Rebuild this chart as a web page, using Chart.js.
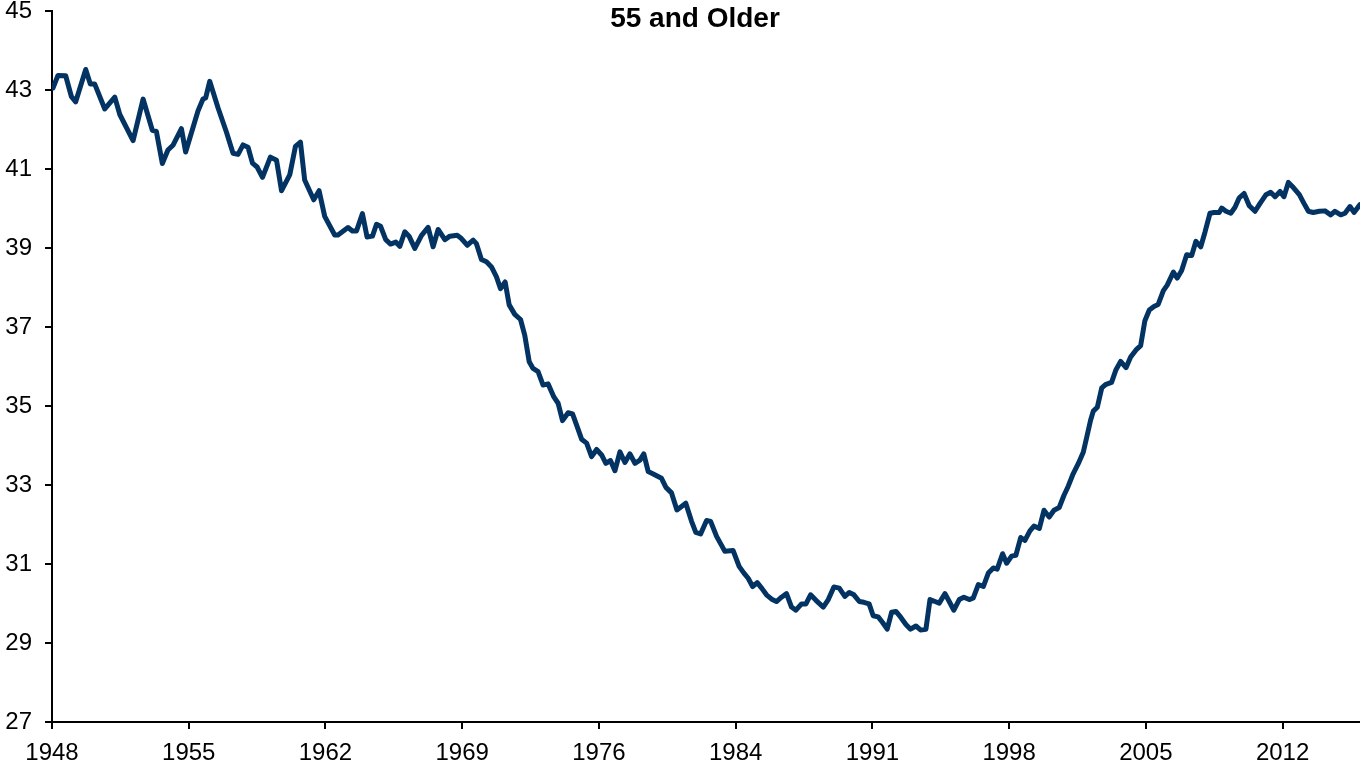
<!DOCTYPE html>
<html>
<head>
<meta charset="utf-8">
<title>55 and Older</title>
<script src="https://cdn.jsdelivr.net/npm/chart.js@4.4.1/dist/chart.umd.min.js"></script>
<style>
  html, body { margin: 0; padding: 0; background: #fff; }
  #wrap { width: 1360px; height: 764px; position: relative; }
</style>
</head>
<body>
<div id="wrap"><canvas id="myChart"></canvas></div>
<script>
// participation rate, 55 and older
var years = [
  1948.05, 1948.31, 1948.71, 1949.01, 1949.23, 1949.75, 1949.99, 1950.22, 1950.74, 1951.26,
  1951.52, 1952.21, 1952.73, 1953.21, 1953.42, 1953.73, 1954.02, 1954.28, 1954.72, 1954.94,
  1955.58, 1955.84, 1955.98, 1956.19, 1956.62, 1957.06, 1957.40, 1957.66, 1957.92, 1958.18,
  1958.41, 1958.65, 1958.93, 1959.34, 1959.66, 1959.92, 1960.35, 1960.64, 1960.90, 1961.12,
  1961.59, 1961.87, 1962.16, 1962.68, 1962.85, 1963.37, 1963.60, 1963.81, 1964.12, 1964.36,
  1964.64, 1964.85, 1965.06, 1965.33, 1965.58, 1965.85, 1966.06, 1966.32, 1966.54, 1966.84,
  1967.19, 1967.53, 1967.79, 1968.05, 1968.40, 1968.66, 1969.04, 1969.26, 1969.56, 1969.87,
  1970.04, 1970.30, 1970.56, 1970.82, 1971.08, 1971.29, 1971.53, 1971.74, 1972.03, 1972.33,
  1972.55, 1972.78, 1972.98, 1973.24, 1973.50, 1973.76, 1974.06, 1974.28, 1974.51, 1974.80,
  1975.03, 1975.27, 1975.50, 1975.76, 1976.02, 1976.28, 1976.54, 1976.76, 1977.00, 1977.23,
  1977.49, 1977.75, 1978.01, 1978.27, 1978.53, 1978.73, 1978.96, 1979.22, 1979.65, 1979.88,
  1980.17, 1980.45, 1980.91, 1981.21, 1981.43, 1981.68, 1981.99, 1982.20, 1982.51, 1982.94,
  1983.37, 1983.68, 1983.93, 1984.15, 1984.38, 1984.62, 1984.85, 1985.10, 1985.37, 1985.62,
  1985.88, 1986.14, 1986.40, 1986.63, 1986.92, 1987.15, 1987.39, 1987.67, 1988.05, 1988.31,
  1988.60, 1988.88, 1989.17, 1989.40, 1989.64, 1989.92, 1990.16, 1990.43, 1990.64, 1990.90,
  1991.13, 1991.37, 1991.60, 1991.82, 1992.06, 1992.34, 1992.58, 1992.86, 1993.10, 1993.38,
  1993.59, 1993.85, 1994.07, 1994.37, 1994.59, 1994.83, 1995.11, 1995.35, 1995.63, 1995.84,
  1996.10, 1996.36, 1996.62, 1996.88, 1997.08, 1997.36, 1997.57, 1997.83, 1998.05, 1998.30,
  1998.52, 1998.78, 1998.99, 1999.27, 1999.51, 1999.78, 2000.03, 2000.30, 2000.55, 2000.77,
  2001.03, 2001.29, 2001.55, 2001.73, 2001.93, 2002.07, 2002.28, 2002.51, 2002.73, 2003.02,
  2003.25, 2003.49, 2003.77, 2004.01, 2004.29, 2004.53, 2004.75, 2004.98, 2005.22, 2005.44,
  2005.71, 2005.91, 2006.23, 2006.43, 2006.66, 2006.92, 2007.18, 2007.40, 2007.65, 2007.87,
  2008.13, 2008.34, 2008.61, 2008.74, 2008.96, 2009.21, 2009.43, 2009.65, 2009.90, 2010.17,
  2010.47, 2010.73, 2011.04, 2011.28, 2011.51, 2011.77, 2011.97, 2012.20, 2012.46, 2012.77,
  2013.01, 2013.24, 2013.49, 2013.81, 2014.10, 2014.40, 2014.62, 2014.92, 2015.14, 2015.40,
  2015.61, 2015.92
];
var rates = [
  43.05, 43.37, 43.36, 42.83, 42.70, 43.52, 43.15, 43.15, 42.52, 42.82,
  42.38, 41.72, 42.77, 41.98, 41.95, 41.14, 41.48, 41.60, 42.02, 41.43,
  42.47, 42.77, 42.80, 43.22, 42.55, 41.93, 41.40, 41.37, 41.61, 41.55,
  41.15, 41.05, 40.79, 41.30, 41.22, 40.45, 40.86, 41.57, 41.68, 40.72,
  40.22, 40.45, 39.80, 39.33, 39.33, 39.52, 39.43, 39.43, 39.87, 39.28,
  39.30, 39.60, 39.55, 39.21, 39.10, 39.15, 39.04, 39.41, 39.30, 38.99,
  39.32, 39.52, 39.03, 39.47, 39.21, 39.30, 39.32, 39.24, 39.07, 39.20,
  39.11, 38.71, 38.65, 38.52, 38.27, 37.97, 38.14, 37.56, 37.32, 37.19,
  36.79, 36.12, 35.95, 35.87, 35.53, 35.56, 35.23, 35.07, 34.63, 34.83,
  34.80, 34.48, 34.16, 34.06, 33.72, 33.90, 33.76, 33.55, 33.62, 33.36,
  33.84, 33.57, 33.79, 33.55, 33.63, 33.79, 33.34, 33.28, 33.17, 32.94,
  32.80, 32.37, 32.54, 32.08, 31.80, 31.76, 32.10, 32.08, 31.70, 31.32,
  31.34, 30.94, 30.77, 30.64, 30.43, 30.53, 30.39, 30.22, 30.11, 30.05,
  30.16, 30.25, 29.91, 29.83, 29.99, 29.99, 30.22, 30.08, 29.91, 30.10,
  30.42, 30.39, 30.18, 30.28, 30.22, 30.05, 30.03, 29.99, 29.69, 29.66,
  29.52, 29.35, 29.78, 29.80, 29.66, 29.47, 29.35, 29.43, 29.33, 29.35,
  30.10, 30.05, 30.01, 30.25, 30.05, 29.83, 30.10, 30.16, 30.10, 30.14,
  30.48, 30.43, 30.77, 30.90, 30.87, 31.26, 31.02, 31.20, 31.22, 31.67,
  31.60, 31.84, 31.96, 31.90, 32.36, 32.19, 32.36, 32.43, 32.74, 32.97,
  33.29, 33.54, 33.83, 34.21, 34.64, 34.87, 34.97, 35.46, 35.55, 35.60,
  35.92, 36.13, 35.97, 36.24, 36.42, 36.53, 37.16, 37.43, 37.52, 37.57,
  37.92, 38.06, 38.39, 38.24, 38.43, 38.83, 38.81, 39.17, 39.03, 39.40,
  39.88, 39.90, 39.90, 40.01, 39.93, 39.88, 40.03, 40.27, 40.38, 40.07,
  39.93, 40.13, 40.35, 40.41, 40.30, 40.43, 40.30, 40.66, 40.53, 40.35,
  40.13, 39.93, 39.90, 39.93, 39.94, 39.84, 39.93, 39.84, 39.88, 40.05,
  39.90, 40.10
];

// axis ticks
var xTickLabels = ['1948', '1955', '1962', '1969', '1976', '1984', '1991', '1998', '2005', '2012'];
var xTickStart = 1948;
var xTickStep = 7.1;
var xMax = 2015.92;
var yMin = 27, yMax = 45, yStep = 2;

var titleText = '55 and Older';
var lineColor = '#033363';
var fontFamily = "'Liberation Sans', Arial, Helvetica, sans-serif";

var points = [];
years.forEach(function (yr, i) {
    points.push({ x: yr, y: rates[i] });
});

// draws the title over the plot, like the original
var titlePlugin = {
    id: 'overTitle',
    afterDraw: function (chart) {
        var ctx = chart.ctx;
        ctx.save();
        ctx.font = 'bold 28px ' + fontFamily;
        ctx.fillStyle = '#000';
        ctx.textAlign = 'center';
        ctx.textBaseline = 'alphabetic';
        ctx.fillText(titleText, 695, 27);
        ctx.restore();
    }
};

// no extra room for half labels at the ends of the axes
function noEdgePadding(axis) {
    axis.paddingTop = 0;
    axis.paddingBottom = 0;
    axis.paddingLeft = 0;
    axis.paddingRight = 0;
}

var ctx = document.getElementById('myChart').getContext('2d');
var myChart = new Chart(ctx, {
    type: 'line',
    data: {
        datasets: [{
            label: titleText,
            data: points,
            borderColor: lineColor,
            backgroundColor: lineColor,
            borderWidth: 5,
            pointRadius: 0,
            tension: 0,
            fill: false,
            borderJoinStyle: 'round',
            borderCapStyle: 'round'
        }]
    },
    options: {
        responsive: true,
        maintainAspectRatio: false,
        animation: false,
        devicePixelRatio: 1,
        layout: { padding: { top: 11, right: 0, bottom: 0, left: 0 } },
        plugins: {
            legend: { display: false },
            title: { display: false },
            tooltip: { enabled: false }
        },
        scales: {
            x: {
                type: 'linear',
                min: xTickStart,
                max: xMax,
                afterBuildTicks: function (axis) {
                    axis.ticks = xTickLabels.map(function (lab, i) {
                        return { value: xTickStart + i * xTickStep };
                    });
                },
                afterFit: function (axis) {
                    axis.height = 42;
                    noEdgePadding(axis);
                },
                ticks: {
                    autoSkip: false,
                    maxRotation: 0,
                    padding: 10,
                    color: '#000',
                    font: { family: fontFamily, size: 24 },
                    callback: function (value, index) { return xTickLabels[index]; }
                },
                grid: {
                    drawOnChartArea: false,
                    drawTicks: true,
                    tickLength: 7,
                    color: '#000',
                    lineWidth: 2
                },
                border: { display: true, color: '#000', width: 2 }
            },
            y: {
                min: yMin,
                max: yMax,
                afterFit: function (axis) {
                    axis.width = 52;
                    noEdgePadding(axis);
                },
                ticks: {
                    stepSize: yStep,
                    padding: 13,
                    color: '#000',
                    font: { family: fontFamily, size: 24 }
                },
                grid: {
                    drawOnChartArea: false,
                    drawTicks: true,
                    tickLength: 7,
                    color: '#000',
                    lineWidth: 2
                },
                border: { display: true, color: '#000', width: 2 }
            }
        }
    },
    plugins: [titlePlugin]
});
</script>
</body>
</html>
